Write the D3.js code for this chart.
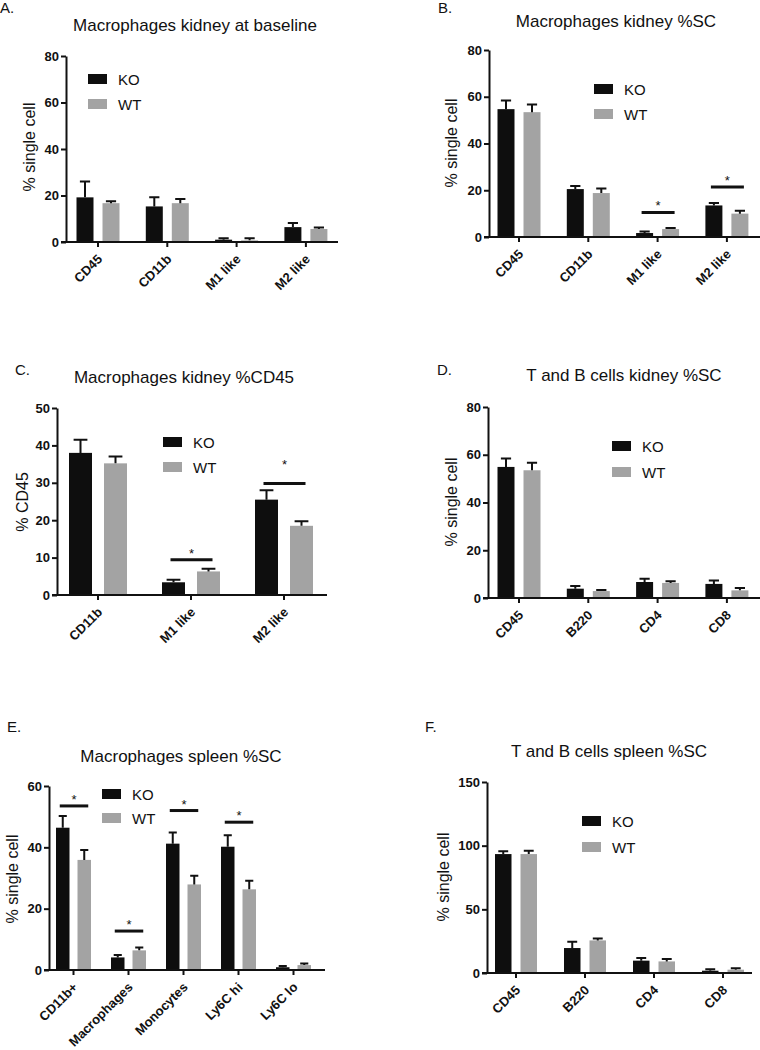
<!DOCTYPE html>
<html><head><meta charset="utf-8">
<script src="https://cdn.jsdelivr.net/npm/d3@7"></script>
<style>
body{margin:0;background:#fff;}
svg text{font-family:"Liberation Sans",Arial,sans-serif;}
</style></head>
<body><svg id="c" width="760" height="1050"></svg>
<script>
// ---------- DATA ----------
const groups = ["KO", "WT"];

// A. Macrophages kidney at baseline (% single cell)
const catsA = ["CD45", "CD11b", "M1 like", "M2 like"];
const koA = [19.2, 15.3, 1.0, 6.4];
const koTopA = [26.0, 19.2, 1.6, 8.2];
const wtA = [16.7, 16.7, 0.7, 5.6];
const wtTopA = [17.5, 18.5, 1.6, 6.2];
const ticksA = [0, 20, 40, 60, 80];
const sigCatsA = [];
const sigLineA = [];
const sigStarA = [];

// B. Macrophages kidney %SC
const catsB = ["CD45", "CD11b", "M1 like", "M2 like"];
const koB = [54.7, 20.5, 1.7, 13.5];
const koTopB = [58.4, 21.8, 2.3, 14.5];
const wtB = [53.4, 18.8, 3.4, 10.0];
const wtTopB = [56.7, 20.8, 3.8, 11.2];
const ticksB = [0, 20, 40, 60, 80];
const sigCatsB = ["M1 like", "M2 like"];
const sigLineB = [10.5, 21.4];
const sigStarB = [10.5, 21.4];

// C. Macrophages kidney %CD45
const catsC = ["CD11b", "M1 like", "M2 like"];
const koC = [38.0, 3.4, 25.5];
const koTopC = [41.5, 4.1, 28.0];
const wtC = [35.2, 6.3, 18.5];
const wtTopC = [37.0, 7.0, 19.7];
const ticksC = [0, 10, 20, 30, 40, 50];
const sigCatsC = ["M1 like", "M2 like"];
const sigLineC = [9.4, 29.8];
const sigStarC = [9.4, 33.2];

// D. T and B cells kidney %SC
const catsD = ["CD45", "B220", "CD4", "CD8"];
const koD = [54.9, 3.9, 6.7, 5.9];
const koTopD = [58.4, 5.0, 8.1, 7.3];
const wtD = [53.5, 2.9, 6.3, 3.2];
const wtTopD = [56.6, 3.4, 7.0, 4.2];
const ticksD = [0, 20, 40, 60, 80];
const sigCatsD = [];
const sigLineD = [];
const sigStarD = [];

// E. Macrophages spleen %SC
const catsE = ["CD11b+", "Macrophages", "Monocytes", "Ly6C hi", "Ly6C lo"];
const koE = [46.4, 4.1, 41.2, 40.2, 0.9];
const koTopE = [50.2, 4.9, 44.8, 43.9, 1.3];
const wtE = [35.9, 6.4, 27.9, 26.3, 1.6];
const wtTopE = [39.1, 7.3, 30.7, 29.1, 2.1];
const ticksE = [0, 20, 40, 60];
const sigCatsE = ["CD11b+", "Macrophages", "Monocytes", "Ly6C hi"];
const sigLineE = [53.5, 12.7, 52.0, 48.2];
const sigStarE = [53.5, 12.7, 52.0, 48.2];

// F. T and B cells spleen %SC
const catsF = ["CD45", "B220", "CD4", "CD8"];
const koF = [93.4, 19.6, 9.7, 1.8];
const koTopF = [95.7, 24.5, 11.7, 2.9];
const wtF = [93.4, 25.6, 9.1, 2.6];
const wtTopF = [96.0, 27.1, 11.0, 3.7];
const ticksF = [0, 50, 100, 150];
const sigCatsF = [];
const sigLineF = [];
const sigStarF = [];

// ---------- LAYOUT ----------
const colors = {KO: "#0e0e0e", WT: "#a3a3a3"};
const svg = d3.select("#c");

const panels = [
  {letter:"A.", lx:0, ly:13, title:"Macrophages kidney at baseline", tx:195, ty:31, ylab:"% single cell", ylx:35, yly:147,
   ax:66, y0:242, y1:56, xEnd:338, c0:98, step:69.3, barW:17, gap:9,
   leg:{x:88, y:79, dy:25},
   cats:catsA, ko:koA, koTop:koTopA, wt:wtA, wtTop:wtTopA, ticks:ticksA, sigC:sigCatsA, sigL:sigLineA, sigS:sigStarA},
  {letter:"B.", lx:438, ly:13, title:"Macrophages kidney %SC", tx:616, ty:27, ylab:"% single cell", ylx:457, yly:143,
   ax:489, y0:237, y1:50, xEnd:760, c0:519, step:69.3, barW:17, gap:9,
   leg:{x:594, y:89, dy:25},
   cats:catsB, ko:koB, koTop:koTopB, wt:wtB, wtTop:wtTopB, ticks:ticksB, sigC:sigCatsB, sigL:sigLineB, sigS:sigStarB},
  {letter:"C.", lx:15, ly:375, title:"Macrophages kidney %CD45", tx:184, ty:383, ylab:"% CD45", ylx:28, yly:502,
   ax:57, y0:595, y1:408, xEnd:327, c0:98, step:93, barW:23, gap:12,
   leg:{x:163, y:442, dy:25},
   cats:catsC, ko:koC, koTop:koTopC, wt:wtC, wtTop:wtTopC, ticks:ticksC, sigC:sigCatsC, sigL:sigLineC, sigS:sigStarC},
  {letter:"D.", lx:437, ly:375, title:"T and B cells kidney %SC", tx:624, ty:381, ylab:"% single cell", ylx:457, yly:502,
   ax:488, y0:598, y1:407, xEnd:760, c0:519, step:69.3, barW:17, gap:9,
   leg:{x:612, y:446, dy:26},
   cats:catsD, ko:koD, koTop:koTopD, wt:wtD, wtTop:wtTopD, ticks:ticksD, sigC:sigCatsD, sigL:sigLineD, sigS:sigStarD},
  {letter:"E.", lx:7, ly:732, title:"Macrophages spleen %SC", tx:181, ty:762, ylab:"% single cell", ylx:18, yly:879,
   ax:49, y0:970, y1:786, xEnd:325, c0:73.5, step:55, barW:13.5, gap:8,
   leg:{x:102, y:794, dy:24},
   cats:catsE, ko:koE, koTop:koTopE, wt:wtE, wtTop:wtTopE, ticks:ticksE, sigC:sigCatsE, sigL:sigLineE, sigS:sigStarE},
  {letter:"F.", lx:425, ly:732, title:"T and B cells spleen %SC", tx:609, ty:757, ylab:"% single cell", ylx:449, yly:877,
   ax:487, y0:973, y1:782, xEnd:752, c0:516, step:69, barW:16.5, gap:9,
   leg:{x:582, y:821, dy:26},
   cats:catsF, ko:koF, koTop:koTopF, wt:wtF, wtTop:wtTopF, ticks:ticksF, sigC:sigCatsF, sigL:sigLineF, sigS:sigStarF}
];

panels.forEach(p => {
  const g = svg.append("g");
  const n = p.cats.length;
  const x = d3.scaleBand().domain(p.cats)
    .range([p.c0 - p.step/2, p.c0 + (n - 0.5)*p.step]).padding(0);
  const sub = d3.scaleBand().domain(groups)
    .range([x.bandwidth()/2 - p.barW - p.gap/2, x.bandwidth()/2 + p.barW + p.gap/2])
    .paddingInner(p.gap/(p.barW + p.gap)).paddingOuter(0);
  const yMax = p.ticks[p.ticks.length-1];
  const y = d3.scaleLinear().domain([0, yMax]).range([p.y0, p.y1]);

  // panel letter & title
  g.append("text").attr("x", p.lx).attr("y", p.ly).attr("font-size", 15).attr("fill", "#111").text(p.letter);
  g.append("text").attr("x", p.tx).attr("y", p.ty).attr("text-anchor", "middle").attr("font-size", 17).attr("fill", "#111").text(p.title);
  g.append("text").attr("transform", `translate(${p.ylx},${p.yly}) rotate(-90)`).attr("text-anchor", "middle")
    .attr("font-size", 16).attr("fill", "#111").text(p.ylab);

  // bars
  const rows = p.cats.map((c, i) => ({cat: c, vals: [
    {grp: "KO", v: p.ko[i], top: p.koTop[i]},
    {grp: "WT", v: p.wt[i], top: p.wtTop[i]}
  ]}));
  const cg = g.selectAll("g.cat").data(rows).join("g").attr("class", "cat")
    .attr("transform", d => `translate(${x(d.cat)},0)`);
  cg.selectAll("rect").data(d => d.vals).join("rect")
    .attr("x", d => sub(d.grp)).attr("width", sub.bandwidth())
    .attr("y", d => y(d.v)).attr("height", d => y(0) - y(d.v))
    .attr("fill", d => colors[d.grp]);
  // error bars (upper only)
  const capW = Math.max(7, p.barW * 0.6);
  cg.selectAll("path.err").data(d => d.vals).join("path").attr("class", "err")
    .attr("d", d => {
      const cx = sub(d.grp) + sub.bandwidth()/2;
      return `M${cx},${y(d.v)}V${y(d.top)}M${cx - capW/2},${y(d.top)}H${cx + capW/2}`;
    })
    .attr("stroke", "#111").attr("stroke-width", 2).attr("fill", "none");

  // significance
  p.sigC.forEach((c, i) => {
    const xk = x(c) + sub("KO") + sub.bandwidth()/2 - 3;
    const xw = x(c) + sub("WT") + sub.bandwidth()/2 + 4;
    g.append("line").attr("x1", xk).attr("x2", xw).attr("y1", y(p.sigL[i])).attr("y2", y(p.sigL[i]))
      .attr("stroke", "#111").attr("stroke-width", 3);
    g.append("text").attr("x", (xk + xw)/2).attr("y", y(p.sigS[i]) - 2).attr("text-anchor", "middle")
      .attr("font-size", 13).attr("fill", "#111").text("*");
  });

  // y axis
  const ya = g.append("g").attr("transform", `translate(${p.ax},0)`)
    .call(d3.axisLeft(y).tickValues(p.ticks).tickSize(5).tickSizeOuter(0).tickPadding(2));
  ya.select(".domain").attr("stroke", "#111").attr("stroke-width", 2);
  ya.selectAll(".tick line").attr("stroke", "#111").attr("stroke-width", 2);
  ya.selectAll(".tick text").attr("font-size", 13).attr("font-weight", "bold").attr("fill", "#111")
    .attr("font-family", "'Liberation Sans',Arial,sans-serif");

  // x axis
  const xa = g.append("g").attr("transform", `translate(0,${p.y0})`)
    .call(d3.axisBottom(x).tickSize(5).tickSizeOuter(0));
  xa.select(".domain").attr("d", `M${p.ax - 5},0H${p.xEnd}`).attr("stroke", "#111").attr("stroke-width", 2);
  xa.selectAll(".tick line").attr("stroke", "#111").attr("stroke-width", 2);
  xa.selectAll(".tick text").attr("font-size", 13).attr("font-weight", "bold").attr("fill", "#111")
    .attr("font-family", "'Liberation Sans',Arial,sans-serif")
    .attr("text-anchor", "end").attr("x", 0).attr("y", 0).attr("dy", 0)
    .attr("transform", "translate(5,18) rotate(-45)");

  // legend
  groups.forEach((grp, i) => {
    const ly = p.leg.y + i * p.leg.dy;
    g.append("rect").attr("x", p.leg.x).attr("y", ly - 5).attr("width", 19).attr("height", 10).attr("fill", colors[grp]);
    g.append("text").attr("x", p.leg.x + 30).attr("y", ly + 5.5).attr("font-size", 15).attr("fill", "#111").text(grp);
  });
});
</script>
</body></html>
